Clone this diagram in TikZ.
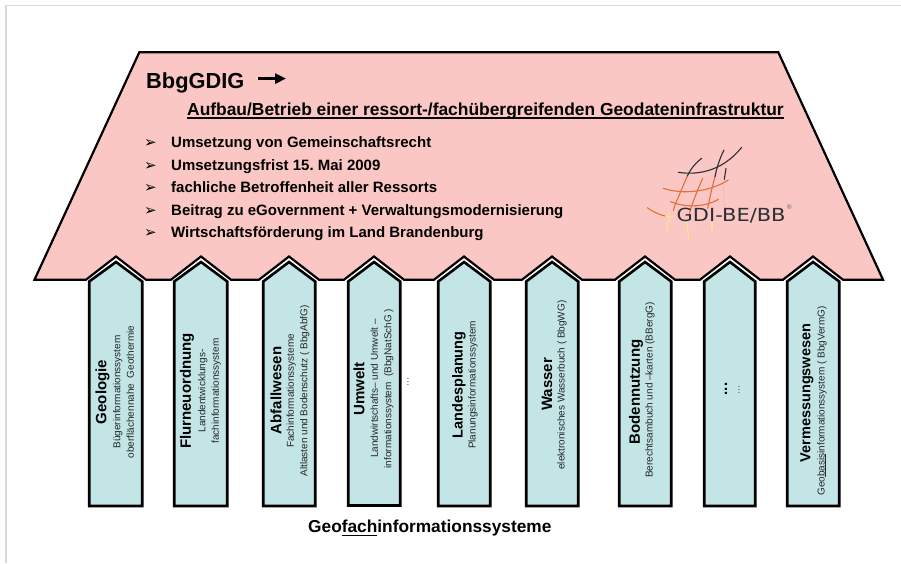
\documentclass[tikz,border=0pt]{standalone}
\usepackage{fontspec}
\usepackage{graphicx}
\usetikzlibrary{arrows.meta}
\setmainfont{Liberation Sans}
\newfontfamily\symfont{DejaVu Sans}
\definecolor{roofpink}{HTML}{FBC7C4}
\definecolor{armteal}{HTML}{C3E5E6}
\definecolor{framegray}{HTML}{D9D9D9}
\definecolor{logoblack}{HTML}{2B2F33}
\definecolor{logoorange}{HTML}{E0703A}
\definecolor{logoyellow}{HTML}{F8E68A}
\frenchspacing
\newbox\ulbox
\newcommand{\myul}[3]{\setbox\ulbox\hbox{#3}\rlap{\rule[#1]{\wd\ulbox}{#2}}\box\ulbox}
\newcommand{\pill}[5]{%
  \draw[pillar] (#2,281.5) -- (#4,262) -- (#3,281.5) -- (#3,#5) -- (#2,#5) -- cycle;
  \coordinate (#1) at (#4,#5);
}
\tikzset{
  pillar/.style={draw=black,fill=armteal,line width=2.6pt,miter limit=10},
  head/.style={rotate=90,inner sep=0pt,font=\fontsize{15pt}{15pt}\selectfont\bfseries},
  headn/.style={rotate=90,inner sep=0pt,font=\fontsize{14.5pt}{15pt}\selectfont\bfseries},
  sub/.style={rotate=90,inner sep=0pt,align=center,font=\fontsize{10pt}{13.4pt}\selectfont,text=black!85},
  dots/.style={rotate=90,inner sep=0pt,font=\fontsize{11pt}{12pt}\selectfont,text=black!60},
  bul/.style={anchor=base west,inner sep=0pt,font=\fontsize{15pt}{16pt}\selectfont\bfseries},
  bulmark/.style={anchor=base,inner sep=0pt,font=\symfont\fontsize{15pt}{16pt}\selectfont},
  lb/.style={line width=1.1pt,draw=logoblack,line cap=round},
  lo/.style={line width=1.1pt,draw=logoorange,line cap=round},
  ly/.style={line width=1.1pt,draw=logoyellow,line cap=round},
}
\begin{document}
\begin{tikzpicture}[x=1pt,y=-1pt]
\useasboundingbox (0,0) rectangle (901,563);
\draw[framegray,line width=1.2pt] (6,563) -- (6,5.5) -- (901,5.5);
\draw[black,fill=roofpink,line width=2.2pt,miter limit=10]
  (139.3,52.3) -- (778.3,52.3) -- (883,279.7)
  -- (843,279.7) -- (813,256.5) -- (783,279.7)
  -- (760,279.7) -- (730,256.5) -- (700,279.7)
  -- (675,279.7) -- (645,256.5) -- (615,279.7)
  -- (582,279.7) -- (552,256.5) -- (522,279.7)
  -- (494,279.7) -- (464,256.5) -- (434,279.7)
  -- (404,279.7) -- (374,256.5) -- (344,279.7)
  -- (319,279.7) -- (289,256.5) -- (259,279.7)
  -- (231,279.7) -- (201,256.5) -- (171,279.7)
  -- (146,279.7) -- (116,256.5) -- (86,279.7)
  -- (34.5,279.7) -- cycle;
\pill{p1}{89.2}{142.2}{116}{506}
\pill{p2}{174.2}{227.2}{201}{506}
\pill{p3}{263.2}{315.2}{289}{506}
\pill{p4}{348.2}{400.2}{374}{505.5}
\pill{p5}{438.2}{490.2}{464}{506}
\pill{p6}{526.2}{578.2}{552}{506}
\pill{p7}{619.2}{671.2}{645}{506}
\pill{p8}{704.2}{755.2}{730}{506}
\pill{p9}{787.2}{839.2}{813}{506}
\node[anchor=base west,inner sep=0pt,font=\fontsize{21.8pt}{24pt}\selectfont\bfseries] (title) at (146,88) {BbgGDIG};
\coordinate (arrS) at (258,78.6);
\coordinate (arrE) at (286,78.6);
\draw[black,line width=2.6pt,-{Triangle[length=11pt,width=10pt]}] (arrS) -- (arrE);
\node[anchor=base west,inner sep=0pt,font=\fontsize{17.4pt}{18pt}\selectfont\bfseries] (subt) at (187,115.5)
  {\myul{-3.4pt}{1.5pt}{Aufbau/Betrieb einer ressort-/fachübergreifenden Geodateninfrastruktur}};
\foreach \yy/\nm/\tx in {147.5/b1/Umsetzung von Gemeinschaftsrecht,170/b2/Umsetzungsfrist 15. Mai 2009,192.5/b3/fachliche Betroffenheit aller Ressorts,215/b4/Beitrag zu eGovernment + Verwaltungsmodernisierung,237/b5/Wirtschaftsförderung im Land Brandenburg}{
  \node[bulmark] (\nm m) at (150.5,\yy) {➢};
  \node[bul] (\nm) at (171,\yy) {\tx};
}
\begin{scope}[shift={(630,140)},x=.3333pt,y=-.3333pt]
  \draw[ly] (52,203) .. controls (75,220) and (95,228) .. (130,232);
  \draw[ly] (118,222) -- (110,272);
  \draw[ly] (170,240) -- (176,298);
  \draw[ly] (246,250) -- (246,270);
  \draw[line width=.7pt,draw=logoorange!45] (280,125) -- (283,208);
  \draw[lo] (52,203) .. controls (65,212) and (80,222) .. (105,228);
  \draw[lo] (100,145) .. controls (160,165) and (240,155) .. (295,120);
  \draw[lo] (122,185) .. controls (170,205) and (230,200) .. (265,178);
  \draw[lo] (172,108) -- (135,195) -- (130,212);
  \draw[lo] (218,115) .. controls (205,145) and (190,180) .. (178,220);
  \draw[lo] (255,110) .. controls (248,135) and (240,170) .. (233,205);
  \draw[lb] (145,97) .. controls (215,108) and (285,85) .. (335,22);
  \draw[lb] (215,55) .. controls (195,70) and (180,90) .. (172,108);
  \draw[lb] (282,30) .. controls (272,50) and (262,75) .. (255,110);
  \draw[lb] (288,85) -- (283,118);
\end{scope}
\node[anchor=base west,inner sep=0pt,text=logoblack,font=\symfont\fontsize{18pt}{18pt}\selectfont] (logo) at (676.5,221.7) {\scalebox{1.165}[1]{GDI-BE/BB}};
\node[anchor=base west,inner sep=0pt,text=logoblack!70,font=\symfont\fontsize{6.5pt}{7pt}\selectfont] (logor) at (786,209) {®};
\node[head] (h1) at (102.5,392) {Geologie};
\node[sub] (s1) at (123.5,392) {Bügerinformationssystem\\oberflächennahe\ \ Geothermie};
\node[head] (h2) at (187,391) {Flurneuordnung};
\node[sub] (s2) at (209.5,391) {Landentwicklungs-\\fachinformationssystem};
\node[head] (h3) at (276,390.5) {Abfallwesen};
\node[sub] (s3) at (298,391) {Fachinformationssysteme\\Altlasten und Bodenschutz ( BbgAbfG)};
\node[head] (h4) at (359,389) {Umwelt};
\node[sub] (s4) at (382,388.5) {Landwirtschafts– und Umwelt –\\informationssystem\ \ (BbgNatSchG )};
\node[dots] (s4b) at (408,382) {...};
\node[headn] (h5) at (459,385) {Landesplanung};
\node[sub] (s5) at (473,385) {Planungsinformationssystem};
\node[head] (h6) at (547,384.5) {Wasser};
\node[sub] (s6) at (562,385) {elektronisches Wasserbuch ( BbgWG)};
\node[head] (h7) at (636,392) {Bodennutzung};
\node[sub] (s7) at (650,390) {Berechtsambuch und –karten (BBergG)};
\node[head] (h8) at (726,389) {...};
\node[dots] (s8) at (739,390) {...};
\node[headn] (h9) at (807,393) {Vermessungswesen};
\node[sub] (s9) at (822,401) {Geo\myul{-1.5pt}{.6pt}{basis}informationssystem ( BbgVermG)};
\node[anchor=base west,inner sep=0pt,font=\fontsize{17.3pt}{18pt}\selectfont\bfseries] (cap) at (308,532.5)
  {Geo\myul{-3.5pt}{1.3pt}{fach}informationssysteme};
\end{tikzpicture}
\end{document}
